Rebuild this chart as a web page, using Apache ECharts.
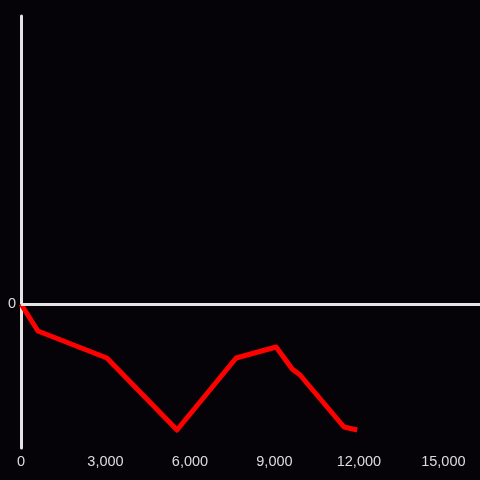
<!DOCTYPE html>
<html>
<head>
<meta charset="utf-8">
<style>
  html, body { margin: 0; padding: 0; background: #050307; }
  #chart { width: 480px; height: 480px; }
</style>
<script src="https://cdn.jsdelivr.net/npm/echarts@6/dist/echarts.min.js"></script>
</head>
<body>
<div id="chart"></div>
<script>
// x positions and y values
var xValues = [0, 600, 3050, 5540, 7640, 9060, 9630, 9910, 11470, 11940];
var yValues = [0, -27, -54, -126, -54, -43, -65, -71, -123, -126];
var xTicks = [0, 3000, 6000, 9000, 12000, 15000];

var points = xValues.map(function (x, i) { return [x, yValues[i]]; });

var chart = echarts.init(document.getElementById('chart'), null, { renderer: 'canvas' });
chart.setOption({
  backgroundColor: '#050307',
  animation: false,
  grid: { left: 21, right: 0, top: 16, bottom: 32 },
  xAxis: {
    type: 'value',
    min: 0,
    max: 16300,
    interval: 3000,
    axisLine: { show: false, onZero: false },
    axisTick: { show: false },
    splitLine: { show: false },
    axisLabel: {
      color: '#dcdcdc',
      fontSize: 14.5,
      margin: 6,
      showMaxLabel: false,
      formatter: function (v) {
        return xTicks.indexOf(v) >= 0 ? v.toLocaleString('en-US') : '';
      }
    }
  },
  yAxis: {
    type: 'value',
    min: -144,
    max: 288,
    interval: 144,
    axisLine: { show: true, lineStyle: { color: '#e4e4e4', width: 3 } },
    axisTick: { show: false },
    splitLine: { show: false },
    axisLabel: {
      color: '#dcdcdc',
      fontSize: 14.5,
      margin: 5,
      padding: [3, 0, 0, 0],
      formatter: function (v) { return v === 0 ? '0' : ''; }
    }
  },
  series: [{
    type: 'line',
    data: points,
    showSymbol: false,
    lineStyle: { color: '#ff0000', width: 5, join: 'round' },
    markLine: {
      silent: true,
      symbol: ['none', 'none'],
      label: { show: false },
      lineStyle: { color: '#e4e4e4', width: 3, type: 'solid' },
      data: [{ yAxis: 0 }]
    },
    z: 3
  }]
});
</script>
</body>
</html>
